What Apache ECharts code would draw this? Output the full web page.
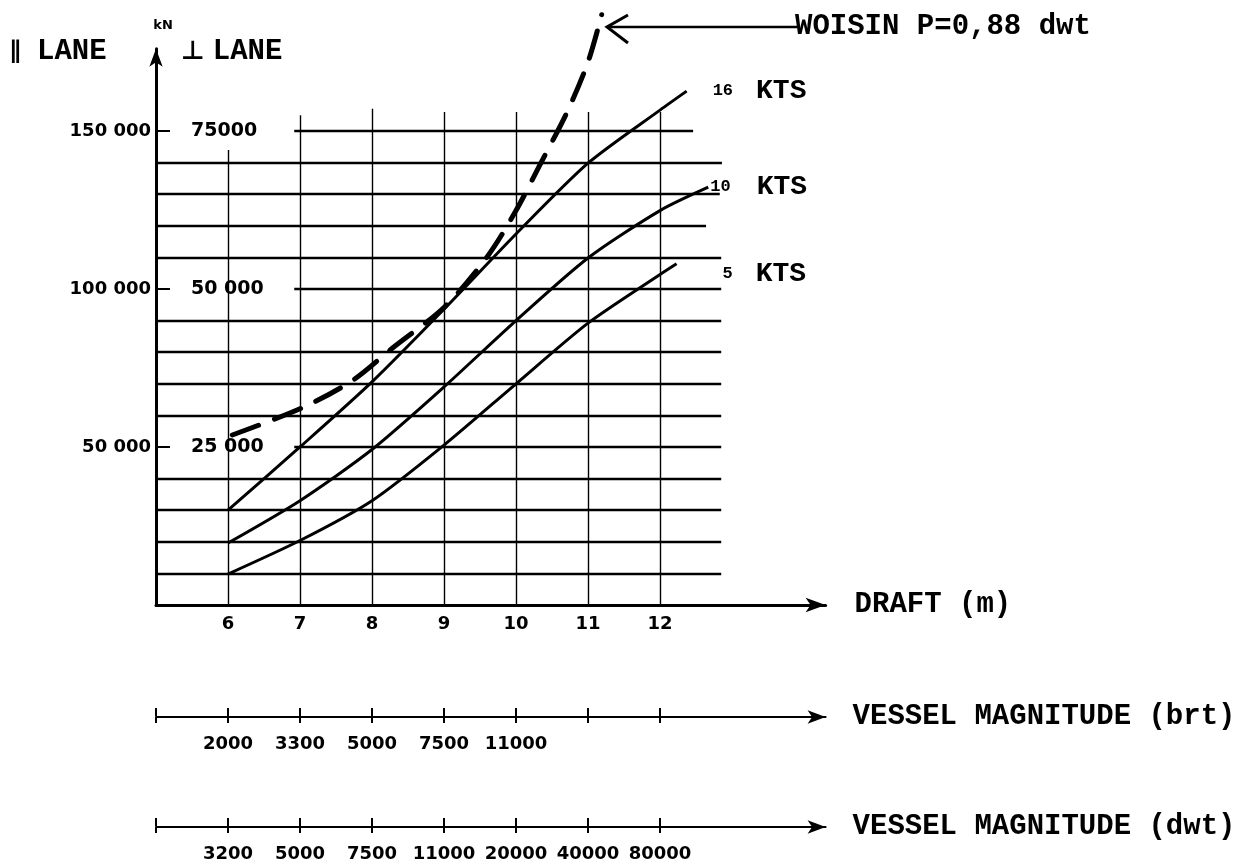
<!DOCTYPE html>
<html><head><meta charset="utf-8">
<script src="https://cdn.jsdelivr.net/npm/echarts@6/dist/echarts.min.js"></script>
<style>html,body{margin:0;padding:0;background:#fff}#c{width:1245px;height:864px}</style>
</head><body><div id="c"></div>
<script>
// ---- data ----
const draftTicks = [6, 7, 8, 9, 10, 11, 12];
const scaleTicks = [5, 6, 7, 8, 9, 10, 11, 12];
const forceTicks = [25000, 50000, 75000];
const parallelLabels = ['50 000', '100 000', '150 000'];
const perpLabels = ['25 000', '50 000', '75000'];
const brtLabels = ['2000', '3300', '5000', '7500', '11000'];
const dwtLabels = ['3200', '5000', '7500', '11000', '20000', '40000', '80000'];

const kts16 = [[6, 15000], [7, 25000], [8, 35300], [9, 46800], [10, 58700], [11, 69900], [12, 78300], [12.37, 81300]];
const kts10 = [[6, 9800], [7, 16500], [8, 24600], [9, 34500], [10, 45000], [11, 54900], [12, 62400], [12.67, 66100]];
const kts5 = [[6, 4900], [7, 10200], [8, 16500], [9, 25300], [10, 35000], [11, 44600], [12, 52300], [12.23, 54000]];
const woisin = [[6.06, 26900], [7.03, 31200], [7.74, 35600], [8.29, 40700], [9.01, 47200], [9.60, 55100],
                [9.99, 62200], [10.33, 69600], [10.71, 78000], [11.00, 85900], [11.19, 93400]];

const hGridValues = [5000, 10000, 15000, 20000, 25000, 30000, 35000, 40000, 45000, 50000, 55000, 60000, 65000, 70000, 75000];
const hGridStart = [5, 5, 5, 5, 6.92, 5, 5, 5, 5, 6.92, 5, 5, 5, 5, 6.92];
const hGridEnd = [12.85, 12.85, 12.85, 12.85, 12.85, 12.85, 12.85, 12.85, 12.85, 12.85, 12.85, 12.64, 12.83, 12.86, 12.46];
const vGridValues = [6, 7, 8, 9, 10, 11, 12];
const vGridTop = [72000, 77500, 78500, 78000, 78000, 78000, 78000];

// ---- chart ----
const INK = '#000';
const NUM = {color: INK, fontFamily: 'DejaVu Sans', fontWeight: 'bold', fontSize: 18};
const TYPE = {color: INK, fontFamily: 'Liberation Mono', fontWeight: 'bold', fontSize: 29};
const gridL = 156, xMin = 5, xMax = 14.3;
const gridR = 1245 - gridL - (xMax - xMin) * 72;

function scaleAxis(gridIndex, labels, name) {
  return [{
    type: 'value', gridIndex, min: xMin, max: xMax, interval: 1, position: 'bottom',
    axisLine: {show: true, onZero: false, symbol: ['none', 'arrow'], symbolSize: [10, 18], lineStyle: {color: INK, width: 2}},
    axisTick: {show: true, inside: false, length: 6, customValues: scaleTicks, lineStyle: {color: INK, width: 2}},
    axisLabel: {customValues: draftTicks.slice(0, labels.length), margin: 18, ...NUM,
      formatter: v => labels[draftTicks.indexOf(v)] || ''},
    splitLine: {show: false},
    name, nameLocation: 'end', nameGap: 27, nameTextStyle: {...TYPE, padding: [20, 0, 0, 0]}
  }, {
    type: 'value', gridIndex, min: xMin, max: xMax, interval: 1, position: 'top',
    axisLine: {show: false, onZero: false},
    axisTick: {show: true, inside: false, length: 8, customValues: scaleTicks, lineStyle: {color: INK, width: 2}},
    axisLabel: {show: false}, splitLine: {show: false}
  }];
}

function ktsSeries(name, data, num, distance, gap, offset) {
  return {
    name, type: 'line', xAxisIndex: 0, yAxisIndex: 0, data, smooth: 0.25,
    showSymbol: false, z: 3, lineStyle: {color: INK, width: 3},
    endLabel: {show: true, distance, offset, formatter: '{n|' + num + '}{k|KTS}',
      rich: {n: {...TYPE, fontSize: 17, verticalAlign: 'middle'}, k: {...TYPE, fontSize: 28, padding: [0, 0, 0, gap]}}}
  };
}

const chart = echarts.init(document.getElementById('c'));
chart.setOption({
  animation: false,
  backgroundColor: '#fff',
  grid: [
    {left: gridL, right: gridR, top: 48.8, bottom: 259, outerBoundsMode: 'none', containLabel: false},
    {left: gridL, right: gridR, top: 716, height: 1, outerBoundsMode: 'none', containLabel: false},
    {left: gridL, right: gridR, top: 826, height: 1, outerBoundsMode: 'none', containLabel: false}
  ],
  xAxis: [
    {
      type: 'value', gridIndex: 0, min: xMin, max: xMax, interval: 1, position: 'bottom',
      axisLine: {show: true, onZero: false, symbol: ['none', 'arrow'], symbolSize: [11, 20], lineStyle: {color: INK, width: 3}},
      axisTick: {show: false},
      axisLabel: {customValues: draftTicks, margin: 10, ...NUM},
      splitLine: {show: false},
      name: 'DRAFT (m)', nameLocation: 'end', nameGap: 29, nameTextStyle: {...TYPE}
    },
    ...scaleAxis(1, brtLabels, 'VESSEL MAGNITUDE (brt)'),
    ...scaleAxis(2, dwtLabels, 'VESSEL MAGNITUDE (dwt)')
  ],
  yAxis: [
    {
      type: 'value', gridIndex: 0, min: 0, max: 88000, interval: 25000, position: 'left',
      axisLine: {show: true, onZero: false, symbol: ['none', 'arrow'], symbolSize: [10, 18], lineStyle: {color: INK, width: 3}},
      axisTick: {show: true, inside: true, length: 14, customValues: forceTicks, lineStyle: {color: INK, width: 2}},
      axisLabel: {customValues: forceTicks, margin: 5, ...NUM,
        formatter: v => parallelLabels[forceTicks.indexOf(v)] || ''},
      splitLine: {show: false},
      name: 'kN', nameLocation: 'end', nameGap: 17,
      nameTextStyle: {color: INK, fontFamily: 'DejaVu Sans', fontWeight: 'bold', fontSize: 13, padding: [0, 0, 0, 14]}
    },
    {
      type: 'value', gridIndex: 0, min: 0, max: 88000, interval: 25000, position: 'left', offset: 0,
      axisLine: {show: false}, axisTick: {show: false}, splitLine: {show: false},
      axisLabel: {inside: true, customValues: forceTicks, margin: 35, ...NUM, fontSize: 19,
        formatter: v => perpLabels[forceTicks.indexOf(v)] || ''}
    },
    {type: 'value', gridIndex: 1, min: 0, max: 1, show: false},
    {type: 'value', gridIndex: 2, min: 0, max: 1, show: false}
  ],
  series: [
    {
      type: 'lines', coordinateSystem: 'cartesian2d', xAxisIndex: 0, yAxisIndex: 0, silent: true, z: 1,
      lineStyle: {color: INK, width: 2.4, opacity: 1},
      data: hGridValues.map((v, i) => ({coords: [[hGridStart[i], v], [hGridEnd[i], v]]}))
    },
    {
      type: 'lines', coordinateSystem: 'cartesian2d', xAxisIndex: 0, yAxisIndex: 0, silent: true, z: 1,
      lineStyle: {color: INK, width: 1.4, opacity: 1},
      data: vGridValues.map((v, i) => ({coords: [[v, 0], [v, vGridTop[i]]]}))
    },
    ktsSeries('16 KTS', kts16, '16', 26, 23, [0, 0]),
    ktsSeries('10 KTS', kts10, '10', 2, 26, [0, 0]),
    ktsSeries('5 KTS', kts5, '5', 46, 23, [0, 10]),
    {
      name: 'WOISIN P=0,88 dwt', type: 'line', xAxisIndex: 0, yAxisIndex: 0, data: woisin, smooth: 0.3,
      showSymbol: false, clip: false, z: 4,
      lineStyle: {color: INK, width: 5, type: [28, 17], cap: 'round'}
    }
  ],
  graphic: [
    {type: 'polyline', shape: {points: [[628, 15], [607, 27], [628, 43]]}, style: {stroke: INK, lineWidth: 3, fill: null}, z: 10},
    {type: 'line', shape: {x1: 607, y1: 27, x2: 797, y2: 27}, style: {stroke: INK, lineWidth: 2.5}, z: 10},
    {type: 'text', x: 795, y: 27, style: {text: 'WOISIN P=0,88 dwt', fill: INK, font: 'bold 29px "Liberation Mono"', verticalAlign: 'middle', align: 'left'}, z: 10},
    {type: 'text', x: 9, y: 52, style: {text: '{s|∥}{b|LANE}', verticalAlign: 'middle', align: 'left',
      rich: {s: {fill: INK, font: 'bold 24px "DejaVu Sans"', padding: [0, 16, 0, 0]}, b: {fill: INK, font: 'bold 29px "Liberation Mono"'}}}, z: 10},
    {type: 'text', x: 181, y: 52, style: {text: '{s|⊥}{b|LANE}', verticalAlign: 'middle', align: 'left',
      rich: {s: {fill: INK, font: 'bold 26px "DejaVu Sans"', padding: [0, 8, 0, 0]}, b: {fill: INK, font: 'bold 29px "Liberation Mono"'}}}, z: 10}
  ]
});
</script>
</body></html>
